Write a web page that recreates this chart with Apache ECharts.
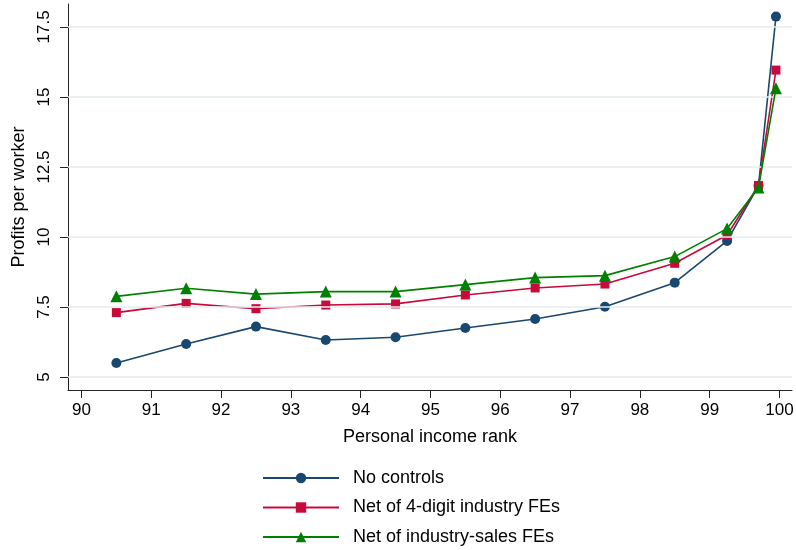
<!DOCTYPE html>
<html>
<head>
<meta charset="utf-8">
<script src="https://cdn.jsdelivr.net/npm/echarts@6/dist/echarts.min.js"></script>
<style>
  html, body { margin: 0; padding: 0; background: #fff; }
  #chart { width: 796px; height: 550px; }
</style>
</head>
<body>
<div id="chart"></div>
<script>
// income rank positions (same for all three series)
var ranks = [90.5, 91.5, 92.5, 93.5, 94.5, 95.5, 96.5, 97.5, 98.5, 99.25, 99.7, 99.95];
var noControls = [5.5, 6.18, 6.80, 6.32, 6.42, 6.75, 7.07, 7.51, 8.37, 9.86, 11.83, 17.87];
var net4Digit = [7.30, 7.63, 7.44, 7.57, 7.61, 7.93, 8.18, 8.32, 9.06, 10.07, 11.84, 15.96];
var netSales = [7.88, 8.17, 7.96, 8.05, 8.05, 8.30, 8.55, 8.62, 9.30, 10.30, 11.77, 15.31];
var xTicks = [90, 91, 92, 93, 94, 95, 96, 97, 98, 99, 100];
var yTicks = [5, 7.5, 10, 12.5, 15, 17.5];
var seriesNames = ["No controls", "Net of 4-digit industry FEs", "Net of industry-sales FEs"];

var font = "Liberation Sans, Arial, sans-serif";

function pairs(vals) {
  return ranks.map(function (r, i) { return [r, vals[i]]; });
}

var chart = echarts.init(document.getElementById("chart"));

var option = {
  animation: false,
  textStyle: { fontFamily: font },
  grid: { left: 68, top: 4, right: 4, bottom: 160, containLabel: false, outerBoundsMode: "none" },
  legend: {
    orient: "vertical",
    left: 262,
    top: 468,
    padding: 0,
    itemWidth: 76,
    itemHeight: 13,
    itemGap: 9.5,
    data: seriesNames,
    textStyle: { fontSize: 18, color: "#000", lineHeight: 20, padding: [0, 0, 0, 9] }
  },
  xAxis: {
    type: "value",
    min: 89.807,
    max: 100.18,
    name: "Personal income rank",
    nameLocation: "middle",
    nameGap: 38,
    nameTextStyle: { fontSize: 18, color: "#000" },
    axisLine: { show: true, onZero: false, lineStyle: { color: "#222", width: 1 } },
    axisTick: { show: true, length: 8, customValues: xTicks, lineStyle: { color: "#222" } },
    axisLabel: { customValues: xTicks, fontSize: 17, color: "#000", margin: 12 },
    splitLine: { show: false }
  },
  yAxis: {
    type: "value",
    min: 4.536,
    max: 18.32,
    name: "Profits per worker",
    nameLocation: "middle",
    nameGap: 37,
    nameTextStyle: { fontSize: 18, color: "#000" },
    axisLine: { show: true, onZero: false, lineStyle: { color: "#222", width: 1 } },
    axisTick: { show: true, length: 8, customValues: yTicks, lineStyle: { color: "#222" } },
    axisLabel: { customValues: yTicks, fontSize: 17, color: "#000", rotate: 90, margin: 15 },
    splitLine: { show: false }
  },
  series: [
    {
      name: "grid",
      type: "line",
      data: [],
      z: 1,
      silent: true,
      markLine: {
        silent: true,
        symbol: "none",
        label: { show: false },
        lineStyle: { color: "#e6eef1", width: 1.5, type: "solid" },
        data: yTicks.map(function (v) { return { yAxis: v }; })
      }
    },
    {
      name: seriesNames[0],
      type: "line",
      data: pairs(noControls),
      symbol: "circle",
      symbolSize: 10,
      color: "#1a476f",
      lineStyle: { width: 1.6, color: "#1a476f" },
      z: 3
    },
    {
      name: seriesNames[1],
      type: "line",
      data: pairs(net4Digit),
      symbol: "rect",
      symbolSize: 9,
      color: "#c60a3c",
      lineStyle: { width: 1.6, color: "#c60a3c" },
      z: 4
    },
    {
      name: seriesNames[2],
      type: "line",
      data: pairs(netSales),
      symbol: "triangle",
      symbolSize: 12,
      color: "#008000",
      lineStyle: { width: 1.6, color: "#008000" },
      z: 5
    }
  ]
};

chart.setOption(option);
</script>
</body>
</html>
